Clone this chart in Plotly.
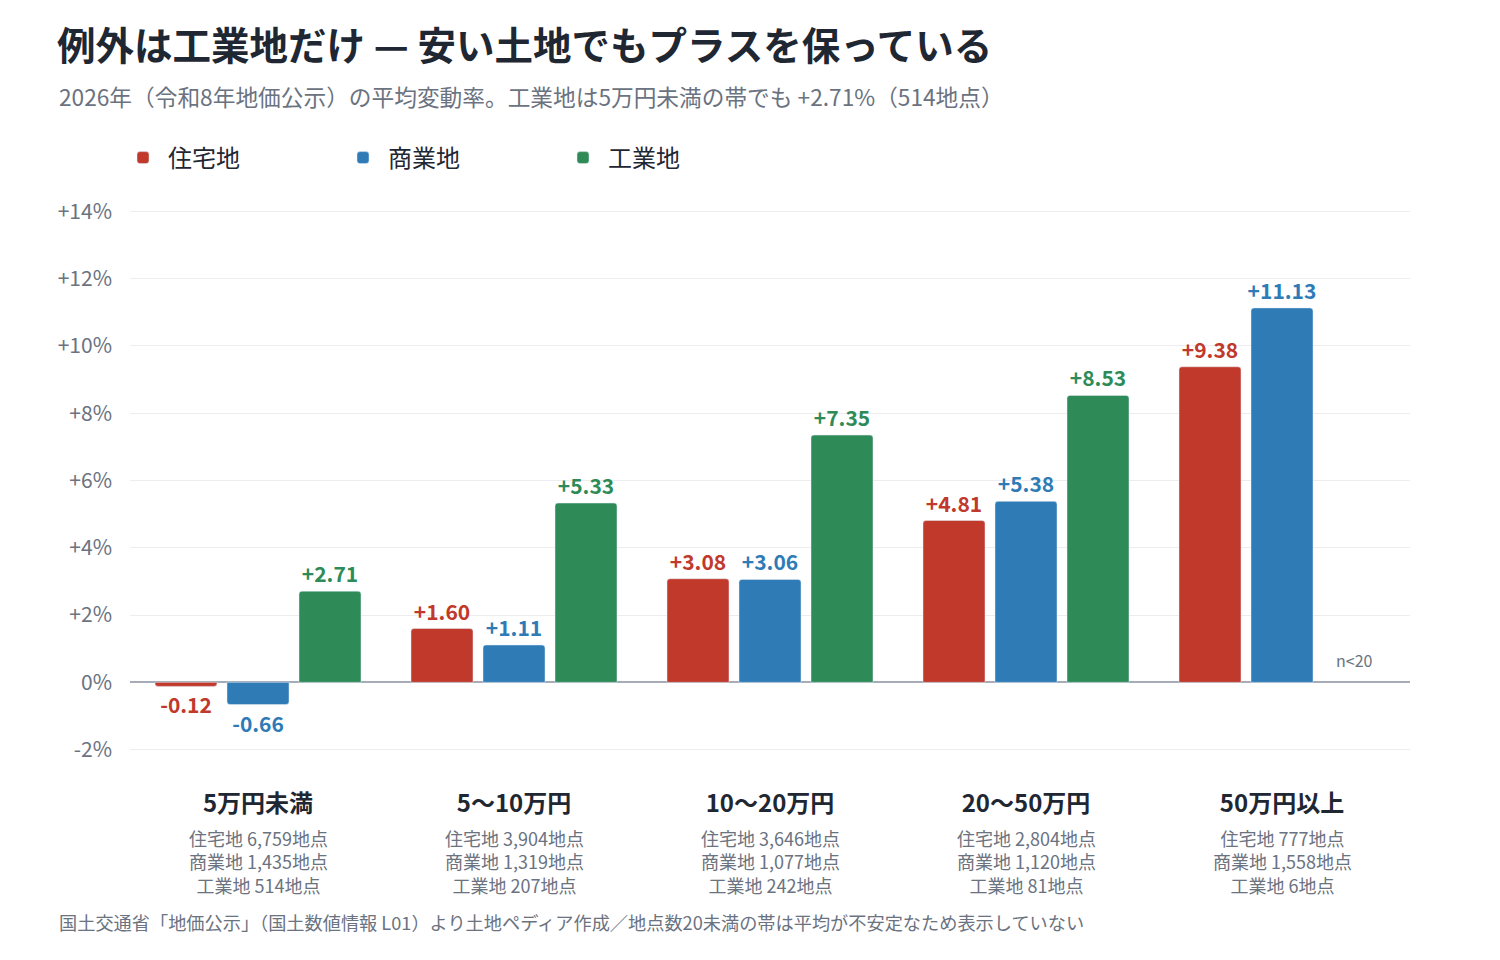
import plotly.graph_objects as go

categories = ['5万円未満', '5〜10万円', '10〜20万円', '20〜50万円', '50万円以上']
residential = [-0.12, 1.60, 3.08, 4.81, 9.38]
commercial = [-0.66, 1.11, 3.06, 5.38, 11.13]
industrial = [2.71, 5.33, 7.35, 8.53, None]  # 50万円以上は n<20 のため非表示

res_counts = ['6,759', '3,904', '3,646', '2,804', '777']
com_counts = ['1,435', '1,319', '1,077', '1,120', '1,558']
ind_counts = ['514', '207', '242', '81', '6']

y_ticks = [-2, 0, 2, 4, 6, 8, 10, 12, 14]
y_ticktext = ['-2%', '0%', '+2%', '+4%', '+6%', '+8%', '+10%', '+12%', '+14%']

RED = '#c0392b'
BLUE = '#2e7bb6'
GREEN = '#2e8b57'
DARK = '#1f2733'
GRAY = '#6b7280'
FONT = 'Noto Sans CJK JP'

# page offset (body margin) and plot area in page pixels
OFF = 8
PLOT_LEFT, PLOT_RIGHT = 130, 1410
PLOT_TOP, PLOT_BOTTOM = 208, 753


def paper_y(px):
    return (PLOT_BOTTOM - px) / (PLOT_BOTTOM - PLOT_TOP)


def paper_x(px):
    return (px - PLOT_LEFT) / (PLOT_RIGHT - PLOT_LEFT)


def fmt(v):
    return '' if v is None else f'{v:+.2f}'


fig = go.Figure()

for name, vals, color in [('住宅地', residential, RED),
                          ('商業地', commercial, BLUE),
                          ('工業地', industrial, GREEN)]:
    fig.add_trace(go.Bar(
        x=categories, y=vals, name=name,
        marker=dict(color=color),
        text=[fmt(v) for v in vals],
        textposition='outside',
        textfont=dict(color=color, size=21, family=FONT, weight=600),
        constraintext='none',
        cliponaxis=False,
    ))

annotations = []
for cat, r, c, i in zip(categories, res_counts, com_counts, ind_counts):
    annotations.append(dict(
        x=cat, xref='x', y=0, yref='paper', yanchor='top', xanchor='center',
        yshift=-70, showarrow=False, align='center',
        text=f'住宅地 {r}地点<br>商業地 {c}地点<br>工業地 {i}地点',
        font=dict(size=18, color=GRAY, family=FONT),
    ))

annotations.append(dict(
    x=categories[-1], xref='x', y=0, yref='y', xshift=72, yshift=8,
    yanchor='bottom', showarrow=False, text='n<20',
    font=dict(size=16, color=GRAY, family=FONT),
))

annotations.append(dict(
    x=paper_x(57), xref='paper', y=paper_y(96), yref='paper',
    xanchor='left', yanchor='middle', showarrow=False,
    text='2026年（令和8年地価公示）の平均変動率。工業地は5万円未満の帯でも +2.71%（514地点）',
    font=dict(size=22.7, color=GRAY, family=FONT),
))

annotations.append(dict(
    x=paper_x(57), xref='paper', y=paper_y(922), yref='paper',
    xanchor='left', yanchor='middle', showarrow=False,
    text='国土交通省「地価公示」（国土数値情報 L01）より土地ペディア作成／地点数20未満の帯は平均が不安定なため表示していない',
    font=dict(size=18.2, color=GRAY, family=FONT),
))

fig.update_layout(
    width=1500, height=960,
    margin=dict(l=PLOT_LEFT - OFF, r=1500 - (PLOT_RIGHT - OFF),
                t=PLOT_TOP - OFF, b=960 - (PLOT_BOTTOM - OFF)),
    paper_bgcolor='white', plot_bgcolor='white',
    font=dict(family=FONT, color=DARK),
    title=dict(
        text='<b>例外は工業地だけ — 安い土地でもプラスを保っている</b>',
        x=(57 - OFF) / 1500, xref='container', xanchor='left',
        y=1 - (47 - OFF) / 960, yref='container', yanchor='middle',
        font=dict(size=38.5, color=DARK, family=FONT),
    ),
    barmode='group',
    bargap=40 / 256,
    bargroupgap=10 / 72,
    barcornerradius=3,
    showlegend=True,
    legend=dict(
        orientation='h', x=paper_x(118), xanchor='left',
        y=paper_y(158), yanchor='middle',
        itemwidth=40,
        entrywidth=165, entrywidthmode='pixels',
        font=dict(size=24, color=DARK, family=FONT),
        bgcolor='rgba(0,0,0,0)',
    ),
    annotations=annotations,
)

fig.update_xaxes(
    tickvals=categories,
    ticktext=[f'<b>{c}</b>' for c in categories],
    tickfont=dict(size=24, color=DARK, family=FONT),
    ticks='', ticklabelstandoff=34,
    showgrid=False, showline=False,
)

fig.update_yaxes(
    range=[-2.1, 14.1],
    tickvals=y_ticks, ticktext=y_ticktext,
    tickfont=dict(size=21, color=GRAY, family=FONT),
    ticks='', ticklabelstandoff=17,
    showgrid=True, gridcolor='#ececf1', gridwidth=1,
    zeroline=True, zerolinecolor='#a6adb8', zerolinewidth=2,
    showline=False,
)

fig.write_html('out.html')
